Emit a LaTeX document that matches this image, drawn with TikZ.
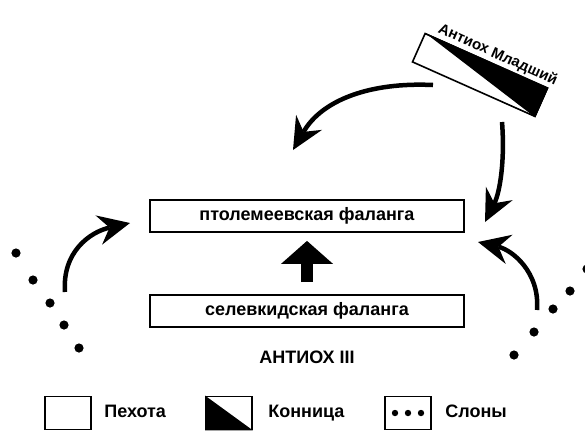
\documentclass[tikz,border=0pt]{standalone}
\usepackage{fontspec}
\setmainfont{Liberation Sans}
\usetikzlibrary{positioning,arrows.meta,calc}

\begin{document}
\begin{tikzpicture}[x=1pt,y=-1pt,every node/.style={font=\fontsize{18}{20}\selectfont\bfseries},
  phalanx/.style={draw,line width=1.8pt,minimum width=314pt,minimum height=32pt,inner sep=0pt},
  keybox/.style={draw,line width=1.6pt,minimum width=46pt,minimum height=33pt,inner sep=0pt},
  keytext/.style={text height=13pt,text depth=4pt},
  bendarrow/.style={line width=4.5pt,-{Stealth[length=32pt,width=30pt,inset=11pt,line width=0pt]}},
  uparrow/.style={line width=12pt,-{Triangle[length=23pt,width=52pt,line width=0pt]}}]
\useasboundingbox (0,0) rectangle (585,432);
\node[phalanx] (ptol) at (307,216) {птолемеевская фаланга};
\node[phalanx] (selev) at (307,311) {селевкидская фаланга};
\node (king) at (307,357) {АНТИОХ III};
\node[draw,line width=1.6pt,minimum width=134pt,minimum height=31pt,inner sep=0pt,rotate=-24] (young) at (480,75) {};
\fill (young.north west) -- (young.north east) -- (young.south east) -- cycle;
\node[font=\fontsize{15}{16}\selectfont\bfseries,rotate=-24,anchor=south,inner sep=2pt] (youngname) at ($(young.north)!0.12!(young.north east)$) {Антиох Младший};
\draw[uparrow,shorten <=12pt,shorten >=8pt] (selev.north) -- (ptol.south);
\coordinate (s1) at (433,85);
\coordinate (t1) at (293,150);
\coordinate (s2) at (502,122);
\coordinate (t2) at (485,222);
\coordinate (s3) at (65,292);
\coordinate (t3) at (130,223);
\coordinate (s4) at (537,310);
\coordinate (t4) at (478,242);
\draw[bendarrow] (s1) .. controls (370,82) and (322,100) .. (t1);
\draw[bendarrow] (s2) .. controls (505,160) and (500,192) .. (t2);
\draw[bendarrow] (s3) .. controls (62,252) and (90,232) .. (t3);
\draw[bendarrow] (s4) .. controls (540,272) and (512,250) .. (t4);
\foreach \x/\y in {16/253,33/280,50/303,64/325,79/348,514/355,534/332,553/309,570/291,587/269}
  \fill (\x,\y) circle (4.6pt);
\node[keybox] (infkey) at (68,413) {};
\node[keytext,right=9pt of infkey] (inftext) {Пехота};
\node[keybox] (cavkey) at (229,413) {};
\fill (cavkey.north west) -- (cavkey.south west) -- (cavkey.south east) -- cycle;
\node[keytext,right=12pt of cavkey] (cavtext) {Конница};
\node[keybox] (elekey) at (408,413) {};
\foreach \x in {395,408,421}
  \fill (\x,413) circle (3.2pt);
\node[keytext,right=10pt of elekey] (eletext) {Слоны};
\end{tikzpicture}
\end{document}
